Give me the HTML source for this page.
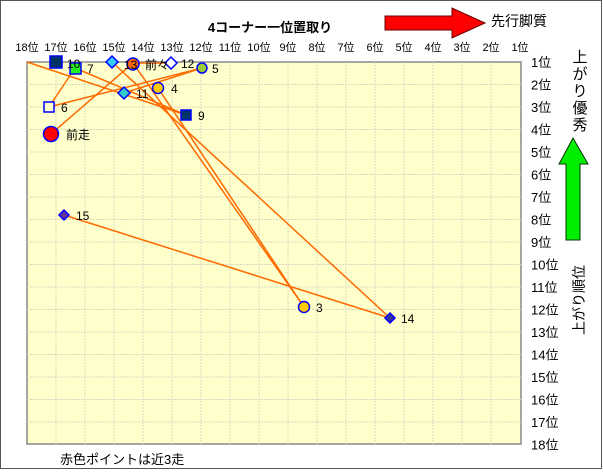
<!DOCTYPE html>
<html><head><meta charset="utf-8"><style>
body{margin:0;background:#fff;}
svg text{font-family:"Liberation Sans","Noto Sans CJK JP",sans-serif;}
</style></head><body>
<svg width="603" height="470" viewBox="0 0 603 470" xmlns="http://www.w3.org/2000/svg">
<rect x="0.5" y="0.5" width="601" height="468" fill="#fff" stroke="#555" stroke-width="1"/>
<text x="270" y="32" font-size="13" font-weight="bold" text-anchor="middle">4コーナー一位置取り</text>
<polygon points="385,16 452,16 452,8 485,23 452,38 452,30 385,30" fill="#f00" stroke="#600" stroke-width="1"/>
<text x="491" y="26" font-size="14">先行脚質</text>
<rect x="27" y="62" width="494" height="382" fill="#ffffcc" stroke="#888" stroke-width="1.5"/>
<g stroke="#d8d8c0" stroke-width="1" stroke-dasharray="2,1">
<path d="M56,62V444M85,62V444M114,62V444M143,62V444M172,62V444M201,62V444M230,62V444M259,62V444M288,62V444M317,62V444M346,62V444M375,62V444M404,62V444M433,62V444M462,62V444M491,62V444"/>
<path d="M27,84.5H521M27,107H521M27,129.5H521M27,152H521M27,174.5H521M27,197H521M27,219.5H521M27,242H521M27,264.5H521M27,287H521M27,309.5H521M27,332H521M27,354.5H521M27,377H521M27,399.5H521M27,422H521"/>
</g>
<g font-size="11" text-anchor="middle" fill="#000">
<text x="27" y="51">18位</text><text x="56" y="51">17位</text><text x="85" y="51">16位</text><text x="114" y="51">15位</text><text x="143" y="51">14位</text><text x="172" y="51">13位</text><text x="201" y="51">12位</text><text x="230" y="51">11位</text><text x="259" y="51">10位</text><text x="288" y="51">9位</text><text x="317" y="51">8位</text><text x="346" y="51">7位</text><text x="375" y="51">6位</text><text x="404" y="51">5位</text><text x="433" y="51">4位</text><text x="462" y="51">3位</text><text x="491" y="51">2位</text><text x="520" y="51">1位</text>
</g>
<g font-size="13" fill="#000">
<text x="531" y="67">1位</text><text x="531" y="89.5">2位</text><text x="531" y="112">3位</text><text x="531" y="134.5">4位</text><text x="531" y="157">5位</text><text x="531" y="179.5">6位</text><text x="531" y="202">7位</text><text x="531" y="224.5">8位</text><text x="531" y="247">9位</text><text x="531" y="269.5">10位</text><text x="531" y="292">11位</text><text x="531" y="314.5">12位</text><text x="531" y="337">13位</text><text x="531" y="359.5">14位</text><text x="531" y="382">15位</text><text x="531" y="404.5">16位</text><text x="531" y="427">17位</text><text x="531" y="449.5">18位</text>
</g>
<g font-size="15" text-anchor="middle"><text x="580" y="62">上</text><text x="580" y="79">が</text><text x="580" y="96">り</text><text x="580" y="113">優</text><text x="580" y="130">秀</text></g>
<polygon points="573,138 588,164 580,164 580,240 566,240 566,164 559,164" fill="#00ee00" stroke="#030" stroke-width="1"/>
<text transform="translate(584,300) rotate(-90)" font-size="14" text-anchor="middle">上がり順位</text>
<text x="60" y="464" font-size="13">赤色ポイントは近3走</text>
<g stroke="#ff6a00" stroke-width="1.5" fill="none">
<line x1="27" y1="62" x2="186" y2="115"/>
<line x1="75" y1="68" x2="186" y2="115"/>
<line x1="112" y1="62" x2="390" y2="318"/>
<line x1="75" y1="68" x2="49" y2="107"/>
<line x1="49" y1="107" x2="202" y2="68"/>
<line x1="124" y1="93" x2="202" y2="68"/>
<line x1="51" y1="134" x2="133" y2="63"/>
<line x1="133" y1="63" x2="171" y2="63"/>
<line x1="133" y1="63" x2="304" y2="307"/>
<line x1="158" y1="88" x2="304" y2="307"/>
<line x1="64" y1="215" x2="390" y2="318"/>
</g>
<g stroke="#00f" stroke-width="1.5">
<rect x="50" y="56" width="12" height="12" fill="#003366"/>
<rect x="70" y="63" width="11" height="11" fill="#22ee22"/>
<polygon points="112,56 118,62 112,68 106,62" fill="#33ccff"/>
<circle cx="133" cy="64" r="6" fill="#ff6600"/>
<polygon points="171,57 177,63 171,69 165,63" fill="#fff"/>
<circle cx="202" cy="68" r="5" fill="#99cc33"/>
<circle cx="158" cy="88" r="5.5" fill="#ffcc00"/>
<polygon points="124,87 130,93 124,99 118,93" fill="#33cccc"/>
<rect x="44" y="102" width="10" height="10" fill="#ffffcc"/>
<rect x="181" y="110" width="10" height="10" fill="#003366"/>
<circle cx="51" cy="134" r="7.5" fill="#ff0000"/>
<polygon points="64,210 69,215 64,220 59,215" fill="#663399"/>
<circle cx="304" cy="307" r="5.5" fill="#ffcc00"/>
<polygon points="390,313 395,318 390,323 385,318" fill="#333399"/>
</g>
<g font-size="12" fill="#000">
<text x="67" y="68">10</text><text x="87" y="73">7</text><text x="124" y="69">13</text><text x="145" y="69">前々</text>
<text x="181" y="68">12</text><text x="212" y="73">5</text><text x="171" y="93">4</text><text x="136" y="98">11</text>
<text x="61" y="112">6</text><text x="198" y="120">9</text><text x="66" y="139">前走</text><text x="76" y="220">15</text>
<text x="316" y="312">3</text><text x="401" y="323">14</text>
</g>
</svg>
</body></html>
